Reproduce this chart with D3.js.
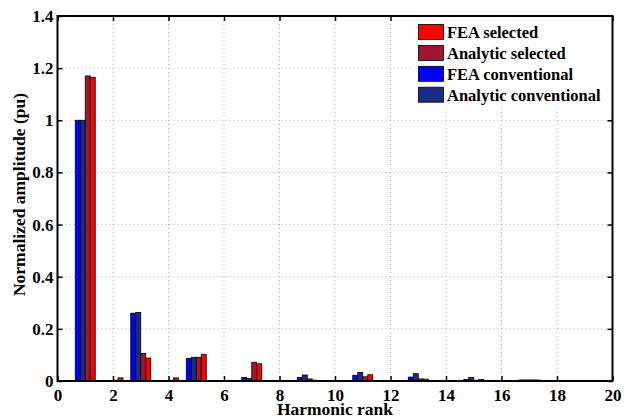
<!DOCTYPE html>
<html>
<head>
<meta charset="utf-8">
<title>Harmonic spectrum</title>
<style>
  body { margin: 0; background: #fff; }
  text { font-family: "Liberation Serif", "Times New Roman", serif; font-weight: bold; fill: #000; }
  .grid line { stroke: #b0b0b0; stroke-dasharray: 1,3; stroke-width: 1; }
</style>
</head>
<body>
<svg width="633" height="418"></svg>
<script src="https://d3js.org/d3.v7.min.js"></script>
<script>
// Data
var ranks = d3.range(1, 20);
var feaConventional = [1.0, 0, 0.26, 0.002, 0.087, 0, 0.014, 0, 0.014, 0, 0.022, 0, 0.015, 0, 0.006, 0, 0.004, 0, 0.001];
var anaConventional = [1.0, 0, 0.263, 0, 0.091, 0, 0.010, 0, 0.023, 0, 0.033, 0, 0.028, 0, 0.014, 0, 0.004, 0, 0.001];
var anaSelected = [1.17, 0.003, 0.106, 0.003, 0.091, 0.002, 0.072, 0.002, 0.008, 0.002, 0.016, 0.002, 0.008, 0.002, 0.003, 0.001, 0.004, 0.001, 0.001];
var feaSelected = [1.165, 0.012, 0.088, 0.012, 0.102, 0.002, 0.066, 0.001, 0.003, 0.001, 0.024, 0.001, 0.007, 0.001, 0.006, 0.001, 0.004, 0.001, 0.001];
var xTicks = d3.range(0, 21, 2);
var yTicks = [0, 0.2, 0.4, 0.6, 0.8, 1, 1.2, 1.4];

// bar order inside a group (left to right)
var series = [
  {name: "FEA conventional", color: "#0000ff", values: feaConventional},
  {name: "Analytic conventional", color: "#1a2d84", values: anaConventional},
  {name: "Analytic selected", color: "#a0172f", values: anaSelected},
  {name: "FEA selected", color: "#ff0000", values: feaSelected}
];
var legendOrder = [3, 2, 0, 1];

var svg = d3.select("svg");
var pL = 57.5, pR = 612.5, pT = 16, pB = 381;

var x = d3.scaleLinear().domain([0, 20]).range([pL, pR]);
var y = d3.scaleLinear().domain([0, 1.4]).range([pB, pT]);
var barW = 0.18;

// grid
var grid = svg.append("g").attr("class", "grid");
grid.selectAll(".gx").data(xTicks.slice(1, -1)).enter().append("line")
    .attr("x1", d => x(d)).attr("x2", d => x(d))
    .attr("y1", pT).attr("y2", pB);
grid.selectAll(".gy").data(yTicks.slice(1, -1)).enter().append("line")
    .attr("x1", pL).attr("x2", pR)
    .attr("y1", d => y(d)).attr("y2", d => y(d));

// bars
series.forEach(function (s, i) {
  svg.append("g").selectAll("rect")
    .data(ranks.map((r, j) => ({r: r, v: s.values[j]})))
    .enter().append("rect")
      .attr("x", d => x(d.r - 2 * barW + i * barW))
      .attr("width", x(barW) - x(0))
      .attr("y", d => y(d.v))
      .attr("height", d => y(0) - y(d.v))
      .attr("fill", s.color)
      .attr("stroke", "#000")
      .attr("stroke-width", 0.8);
});

// axes with inward ticks
function styleAxis(g) {
  g.select(".domain").remove();
  g.selectAll(".tick line").attr("stroke", "#000").attr("stroke-width", 1.5);
  g.selectAll(".tick text").style("font-size", "17px").attr("fill", "#000");
}
svg.append("g").attr("transform", "translate(0," + pB + ")")
  .call(d3.axisBottom(x).tickValues(xTicks).tickSize(-5).tickPadding(7.5).tickFormat(d3.format("d")))
  .call(styleAxis);
svg.append("g").attr("transform", "translate(" + pL + ",0)")
  .call(d3.axisLeft(y).tickValues(yTicks).tickSize(-5).tickPadding(4).tickFormat(d => String(d)))
  .call(styleAxis);
svg.append("g").attr("transform", "translate(0," + pT + ")")
  .call(d3.axisTop(x).tickValues(xTicks).tickSize(-5).tickFormat(""))
  .call(styleAxis);
svg.append("g").attr("transform", "translate(" + pR + ",0)")
  .call(d3.axisRight(y).tickValues(yTicks).tickSize(-5).tickFormat(""))
  .call(styleAxis);

// legend
var lg = svg.append("g").attr("transform", "translate(413," + pT + ")");
lg.append("rect").attr("width", pR - 413).attr("height", 92).attr("fill", "#fff");
lg.selectAll("g").data(legendOrder.map(k => series[k])).enter().append("g")
  .attr("transform", (d, i) => "translate(5.5," + (8.5 + i * 20.9) + ")")
  .each(function (d) {
    var g = d3.select(this);
    g.append("rect").attr("width", 25).attr("height", 15)
      .attr("fill", d.color).attr("stroke", "#000").attr("stroke-width", 0.8);
    g.append("text").attr("x", 28.5).attr("y", 13.5).style("font-size", "16.5px").text(d.name);
  });

// frame
svg.append("rect").attr("x", pL).attr("y", pT)
  .attr("width", pR - pL).attr("height", pB - pT)
  .attr("fill", "none").attr("stroke", "#000").attr("stroke-width", 2);

// labels
svg.append("text").attr("x", (pL + pR) / 2).attr("y", 415)
  .attr("text-anchor", "middle").style("font-size", "17.5px").text("Harmonic rank");
svg.append("text").attr("transform", "translate(25,194.5) rotate(-90)")
  .attr("text-anchor", "middle").style("font-size", "17.5px").text("Normalized amplitude (pu)");
</script>
</body>
</html>
